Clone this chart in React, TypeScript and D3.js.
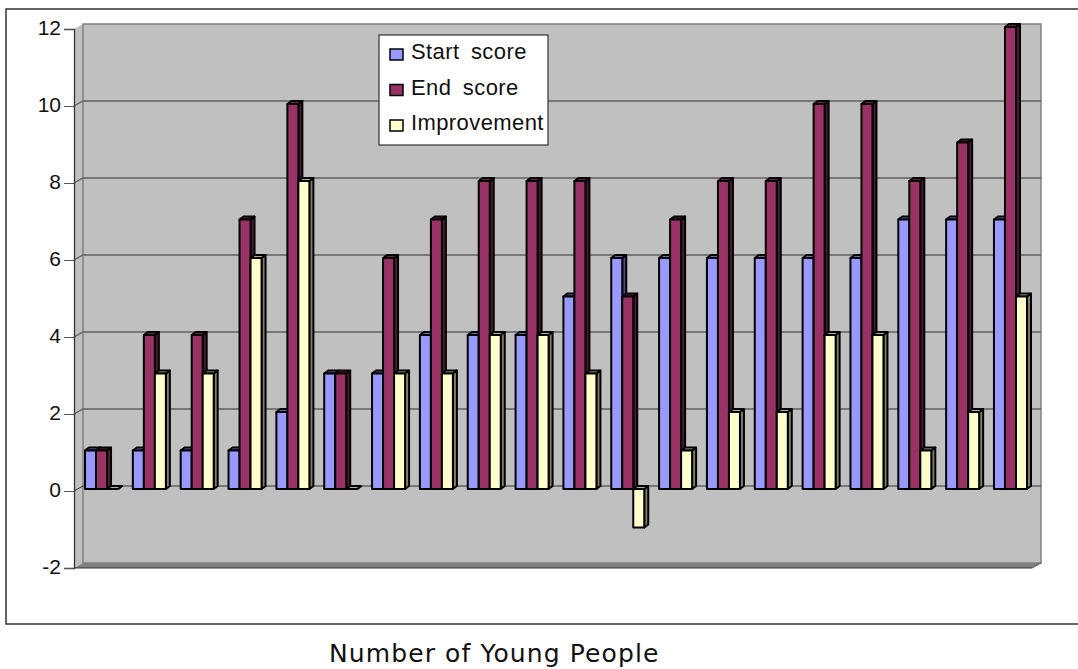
import React, { useEffect, useRef } from 'react';
import * as d3 from 'd3';

const people = d3.range(1, 21).map(String);
const startScore = [1, 1, 1, 1, 2, 3, 3, 4, 4, 4, 5, 6, 6, 6, 6, 6, 6, 7, 7, 7];
const endScore = [1, 4, 4, 7, 10, 3, 6, 7, 8, 8, 8, 5, 7, 8, 8, 10, 10, 8, 9, 12];
const improvement = [0, 3, 3, 6, 8, 0, 3, 3, 4, 4, 3, -1, 1, 2, 2, 4, 4, 1, 2, 5];
const yTicks = [-2, 0, 2, 4, 6, 8, 10, 12];

const seriesNames = ['Start score', 'End score', 'Improvement'];
const seriesValues = [startScore, endScore, improvement];
const frontColors = ['#9999ff', '#993366', '#ffffcc'];
const sideColors = ['#4d4d80', '#4d1a33', '#80806a'];
const topColors = ['#6a6ab3', '#6a2347', '#b3b38f'];

export default function App() {
  const svgRef = useRef<SVGSVGElement>(null);

  useEffect(() => {
    if (!svgRef.current) return;
    const svg = d3.select(svgRef.current);
    svg.selectAll('*').remove();

    const width = 1078;
    const height = 669;
    const plot = { left: 74, right: 1032, top: 29, bottom: 568 };
    const wall = { dx: 9, dy: -5 };
    const bar = { dx: 4, dy: -3, shift: -2 };

    svg.attr('width', width).attr('height', height).attr('viewBox', `0 0 ${width} ${height}`);

    const y = d3.scaleLinear().domain([-2, 12]).range([plot.bottom, plot.top]);
    const x = d3.scaleBand<string>()
      .domain(people)
      .range([77.6, 1034.4])
      .paddingInner(0.31)
      .paddingOuter(0.155);
    const xInner = d3.scaleBand<string>().domain(seriesNames).range([0, x.bandwidth()]);

    // Outer frame, runs off the right edge of the picture
    svg.append('path')
      .attr('d', `M${width},9H6V624H${width}`)
      .attr('fill', 'none')
      .attr('stroke', '#333')
      .attr('stroke-width', 1.5);

    // Walls and floor
    const backL = plot.left + wall.dx;
    const backR = plot.right + wall.dx;
    const backT = plot.top + wall.dy;
    const backB = plot.bottom + wall.dy;

    svg.append('polygon')
      .attr('points', `${plot.left},${plot.top} ${backL},${backT} ${backL},${backB} ${plot.left},${plot.bottom}`)
      .attr('fill', '#c0c0c0');
    svg.append('rect')
      .attr('x', backL).attr('y', backT)
      .attr('width', backR - backL).attr('height', backB - backT)
      .attr('fill', '#c0c0c0')
      .attr('stroke', '#808080')
      .attr('stroke-width', 1.5);
    svg.append('polygon')
      .attr('points', `${plot.left},${plot.bottom} ${plot.right},${plot.bottom} ${backR},${backB} ${backL},${backB}`)
      .attr('fill', '#808080');
    svg.append('line')
      .attr('x1', plot.left).attr('x2', plot.right)
      .attr('y1', plot.bottom).attr('y2', plot.bottom)
      .attr('stroke', '#333').attr('stroke-width', 1.2);
    svg.append('line')
      .attr('x1', plot.right).attr('x2', backR)
      .attr('y1', plot.bottom).attr('y2', backB)
      .attr('stroke', '#555');

    // Gridlines on the back wall with a stub across the side wall
    const grid = svg.append('g');
    yTicks.filter(t => t > -2 && t < 12).forEach(t => {
      grid.append('path')
        .attr('d', `M${plot.left},${y(t)}L${backL},${y(t) + wall.dy}H${backR}`)
        .attr('fill', 'none')
        .attr('stroke', t === 0 ? '#333' : '#5f5f5f')
        .attr('stroke-width', t === 0 ? 1 : 1.3);
    });

    // Value axis
    const axis = svg.append('g')
      .attr('transform', `translate(${plot.left},0)`)
      .call(d3.axisLeft(y).tickValues(yTicks).tickSize(10).tickPadding(3).tickFormat(d => String(d)));
    axis.selectAll('path.domain').attr('stroke', '#333').attr('stroke-width', 1.3);
    axis.selectAll('.tick line').attr('stroke', '#555');
    axis.selectAll('.tick text')
      .attr('fill', '#111')
      .attr('y', -1)
      .style('font-family', '"Liberation Sans", Arial, sans-serif')
      .style('font-size', '21px');

    // Bars: front, side and top faces
    const barY = (v: number) => y(v) + bar.shift;
    const faces = svg.append('g').attr('stroke', '#000').attr('stroke-width', 2).attr('stroke-linejoin', 'round');
    people.forEach((p, i) => {
      seriesNames.forEach((name, s) => {
        const v = seriesValues[s][i];
        const x0 = x(p)! + xInner(name)!;
        const x1 = x0 + xInner.bandwidth();
        const yTop = barY(Math.max(v, 0));
        const yBot = barY(Math.min(v, 0));
        faces.append('polygon')
          .attr('points', `${x1},${yTop} ${x1 + bar.dx},${yTop + bar.dy} ${x1 + bar.dx},${yBot + bar.dy} ${x1},${yBot}`)
          .attr('fill', sideColors[s]);
        faces.append('polygon')
          .attr('points', `${x0},${yTop} ${x0 + bar.dx},${yTop + bar.dy} ${x1 + bar.dx},${yTop + bar.dy} ${x1},${yTop}`)
          .attr('fill', topColors[s]);
        faces.append('rect')
          .attr('x', x0).attr('y', yTop)
          .attr('width', x1 - x0).attr('height', yBot - yTop)
          .attr('fill', frontColors[s]);
      });
    });

    // Legend
    const legend = svg.append('g').attr('transform', 'translate(379,35)');
    legend.append('rect')
      .attr('width', 169).attr('height', 110)
      .attr('fill', '#fff').attr('stroke', '#333').attr('stroke-width', 1.2);
    seriesNames.forEach((name, s) => {
      const row = legend.append('g').attr('transform', `translate(0,${s * 35.5})`);
      row.append('rect')
        .attr('x', 11).attr('y', 14).attr('width', 13).attr('height', 11)
        .attr('fill', frontColors[s]).attr('stroke', '#000').attr('stroke-width', 1.5);
      row.append('text')
        .attr('x', 32).attr('y', 24)
        .attr('fill', '#111')
        .style('font-family', '"Liberation Sans", Arial, sans-serif')
        .style('font-size', '22px')
        .style('letter-spacing', '0.4px')
        .style('word-spacing', '5px')
        .text(name);
    });

    // Axis title
    svg.append('text')
      .attr('x', 329).attr('y', 662)
      .attr('fill', '#111')
      .style('font-family', '"DejaVu Sans", Verdana, sans-serif')
      .style('font-size', '25px')
      .style('letter-spacing', '1.1px')
      .text('Number of Young People');
  }, []);

  return <svg ref={svgRef} style={{ position: 'absolute', left: 0, top: 0, display: 'block' }} />;
}
